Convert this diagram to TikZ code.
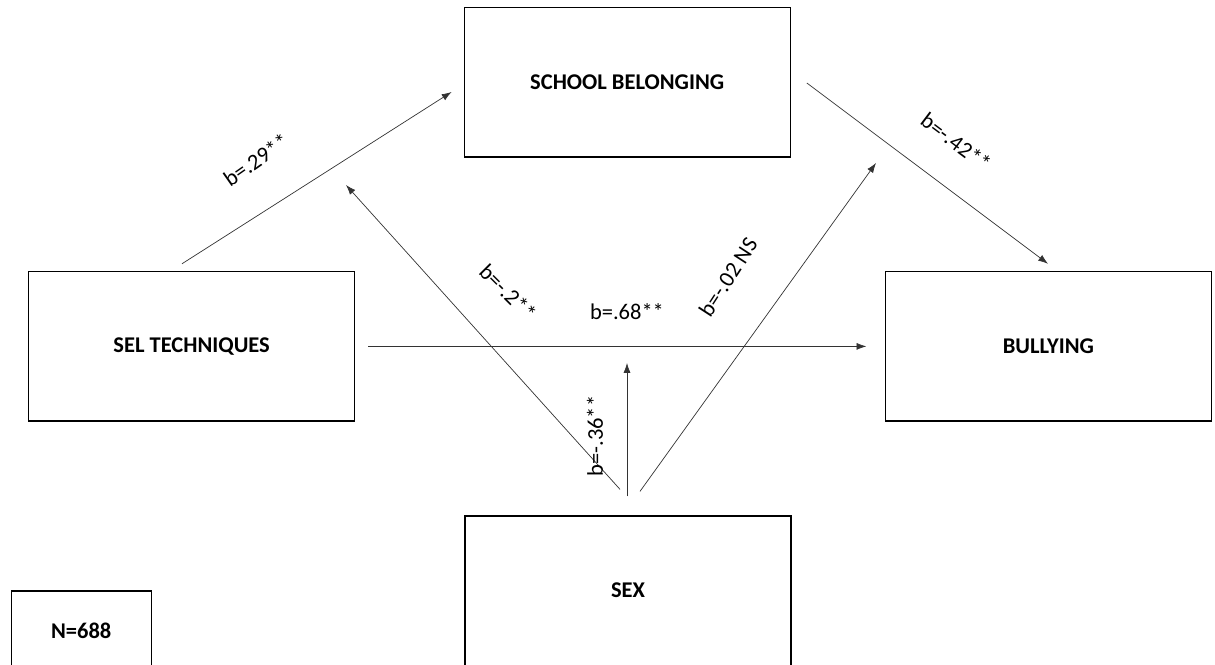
\documentclass[tikz,border=0pt]{standalone}
\usepackage{fontspec}
\setmainfont{Carlito}
\usetikzlibrary{arrows.meta,calc}

\begin{document}
\begin{tikzpicture}[
      arr/.style={-{Latex[length=7pt,width=5pt]}, line width=0.5pt, black!80},
      var/.style={draw, line width=0.9pt, minimum width=8.15cm,
                  minimum height=3.73cm, font=\fontsize{16}{19}\selectfont\bfseries},
      coef/.style={font=\fontsize{16}{19}\selectfont, inner sep=1pt}
    ]
    \clip (0,0) rectangle (30.375,16.6);

    \node[var] (sb) at (15.68,14.54) {SCHOOL BELONGING};
    \node[var] (sel) at (4.79,7.94) {SEL TECHNIQUES};
    \node[var] (bully) at (26.21,7.94) {BULLYING};
    \node[var] (sex) at (15.70,1.835) {SEX};
    \node[var, minimum width=3.5cm, minimum height=2cm] (nobs) at (2.03,0.825) {N=688};

    % moderation targets
    \coordinate (modA) at (8.65,11.975);
    \coordinate (modB) at (21.90,12.525);
    \coordinate (modC) at (15.675,7.525);

    \draw[arr] ($(sel.north)+(-0.24,0.185)$) -- ($(sb.west)+(-0.30,-0.24)$);
    \draw[arr] ($(sb.east)+(0.40,-0.015)$) -- ($(bully.north)+(-0.01,0.185)$);
    \draw[arr] ($(sel.east)+(0.325,0)$) -- ($(bully.west)+(-0.46,0)$);
    \draw[arr] ($(sex.north)+(-0.2,0.65)$) -- (modA);
    \draw[arr] ($(sex.north)+(0.3,0.6)$) -- (modB);
    \draw[arr] ($(sex.north)+(-0.025,0.475)$) -- (modC);

    \node[coef, rotate=35] (cA) at (6.40,12.60) {b=.29**};
    \node[coef, rotate=-37] (cB) at (23.90,13.05) {b=-.42**};
    \node[coef, rotate=-45] (cC) at (12.70,9.30) {b=-.2**};
    \node[coef] (cD) at (15.675,8.80) {b=.68**};
    \node[coef, rotate=57] (cE) at (18.20,9.675) {b=-.02 NS};
    \node[coef, rotate=90] (cF) at (14.875,5.70) {b=-.36**};
  \end{tikzpicture}
\end{document}
